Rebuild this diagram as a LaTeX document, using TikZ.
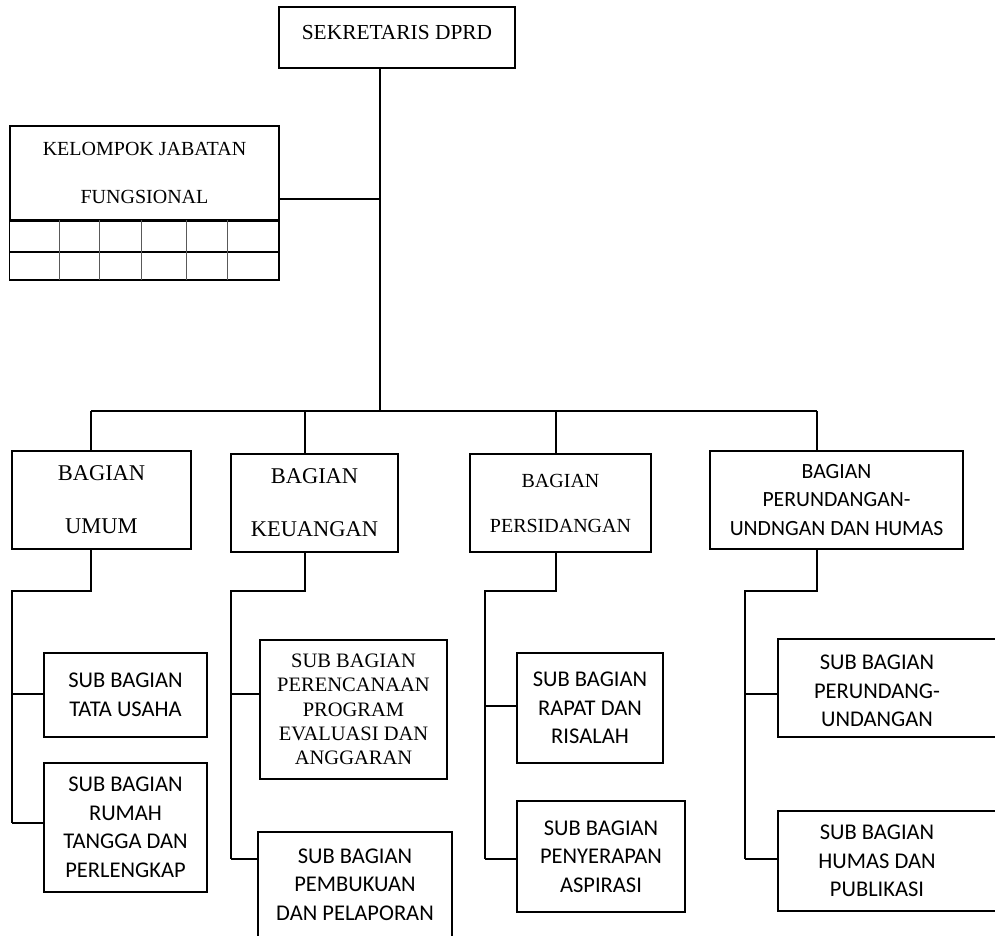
\documentclass[tikz,border=0pt]{standalone}
\usepackage{fontspec}
\setmainfont{Liberation Serif}
\newfontfamily\calibri{Carlito}

\begin{document}
\begin{tikzpicture}[x=1pt, y=-1pt, line width=1.5pt,
		kotak/.style={draw, inner sep=0pt, align=center},
		judul/.style={kotak, font=\fontsize{22.5}{53}\selectfont},
		subkotak/.style={kotak, font=\calibri\fontsize{22.5}{28.5}\selectfont},
		teks/.style={inner sep=0pt, align=center, font=\calibri\fontsize{22.5}{28.5}\selectfont}]

		\useasboundingbox (0,0) rectangle (995,935);
		\clip (0,0) rectangle (995,935);

		% sekretaris
		\node[kotak, font=\fontsize{21.4}{26}\selectfont, text depth=11, minimum width=236, minimum height=61] (sek) at (397,37.5) {SEKRETARIS DPRD};

		% kelompok jabatan fungsional
		\node[kotak, font=\fontsize{20}{48}\selectfont, minimum width=269, minimum height=94] (kel) at (144.5,173) {KELOMPOK JABATAN\\FUNGSIONAL};
		\draw (kel.south west) rectangle (279,280);
		\draw (10,252) -- (279,252);
		\foreach \x in {59,99,141,186,227}
			\draw[line width=1pt, black!65] (\x,220) -- (\x,280);

		% garis induk
		\coordinate (cabang) at (380,199);
		\coordinate (t1) at (91,411);
		\coordinate (t2) at (305,411);
		\coordinate (t3) at (556,411);
		\coordinate (t4) at (817,411);
		\draw (sek.south -| cabang) -- (cabang |- t1);
		\draw (cabang) -- (cabang -| kel.east);
		\draw (t1) -- (t4);

		% bagian
		\node[judul, minimum width=179, minimum height=98] (umum) at (101.5,500) {BAGIAN\\UMUM};
		\node[judul, minimum width=167, minimum height=98] (keu) at (314.5,503) {BAGIAN\\KEUANGAN};
		\node[judul, font=\fontsize{20}{45}\selectfont, minimum width=181, minimum height=98] (sid) at (560.5,503) {BAGIAN\\PERSIDANGAN};
		\node[subkotak, font=\calibri\fontsize{21.7}{28.5}\selectfont, minimum width=253, minimum height=98] (hum) at (836.5,500) {BAGIAN\\PERUNDANGAN-\\UNDNGAN DAN HUMAS};

		\foreach \t/\b in {t1/umum, t2/keu, t3/sid, t4/hum}
			\draw (\t) -- (\t |- \b.north);

		% sub bagian umum
		\node[subkotak, minimum width=163, minimum height=84] (tata) at (125.5,695) {SUB BAGIAN\\TATA USAHA};
		\node[subkotak, minimum width=163, minimum height=129] (rumah) at (125.5,827.5) {SUB BAGIAN\\RUMAH\\TANGGA DAN\\PERLENGKAP};
		\coordinate (s1) at (12,591);
		\coordinate (u1) at (12,694);
		\coordinate (u2) at (12,823);
		\draw (t1 |- umum.south) -- (t1 |- s1) -- (s1) -- (u2);
		\draw (u1) -- (u1 -| tata.west);
		\draw (u2) -- (u2 -| rumah.west);

		% sub bagian keuangan
		\node[kotak, font=\fontsize{20.5}{24.3}\selectfont, minimum width=187, minimum height=139] (renc) at (353.5,709.5) {SUB BAGIAN\\PERENCANAAN\\PROGRAM\\EVALUASI DAN\\ANGGARAN};
		\node[subkotak, minimum width=194, minimum height=105] (buku) at (355,884.5) {SUB BAGIAN\\PEMBUKUAN\\DAN PELAPORAN};
		\coordinate (s2) at (231,591);
		\coordinate (k1) at (231,694);
		\coordinate (k2) at (231,859);
		\draw (t2 |- keu.south) -- (t2 |- s2) -- (s2) -- (k2);
		\draw (k1) -- (k1 -| renc.west);
		\draw (k2) -- (k2 -| buku.west);

		% sub bagian persidangan
		\node[subkotak, minimum width=146, minimum height=110] (rapat) at (590,708) {SUB BAGIAN\\RAPAT DAN\\RISALAH};
		\node[subkotak, minimum width=168, minimum height=111] (serap) at (601,856.5) {SUB BAGIAN\\PENYERAPAN\\ASPIRASI};
		\coordinate (s3) at (485,591);
		\coordinate (p1) at (485,706);
		\coordinate (p2) at (485,859);
		\draw (t3 |- sid.south) -- (t3 |- s3) -- (s3) -- (p2);
		\draw (p1) -- (p1 -| rapat.west);
		\draw (p2) -- (p2 -| serap.west);

		% sub bagian perundang-undangan dan humas
		\node[kotak, minimum width=232, minimum height=98] (undang) at (894,688) {};
		\node[teks] (undangteks) at (877,691) {SUB BAGIAN\\PERUNDANG-\\UNDANGAN};
		\node[kotak, minimum width=232, minimum height=100] (publik) at (894,861) {};
		\node[teks] (publikteks) at (877,861) {SUB BAGIAN\\HUMAS DAN\\PUBLIKASI};
		\coordinate (s4) at (745,591);
		\coordinate (h1) at (745,694);
		\coordinate (h2) at (745,859);
		\draw (t4 |- hum.south) -- (t4 |- s4) -- (s4) -- (h2);
		\draw (h1) -- (h1 -| undang.west);
		\draw (h2) -- (h2 -| publik.west);

	\end{tikzpicture}
\end{document}
